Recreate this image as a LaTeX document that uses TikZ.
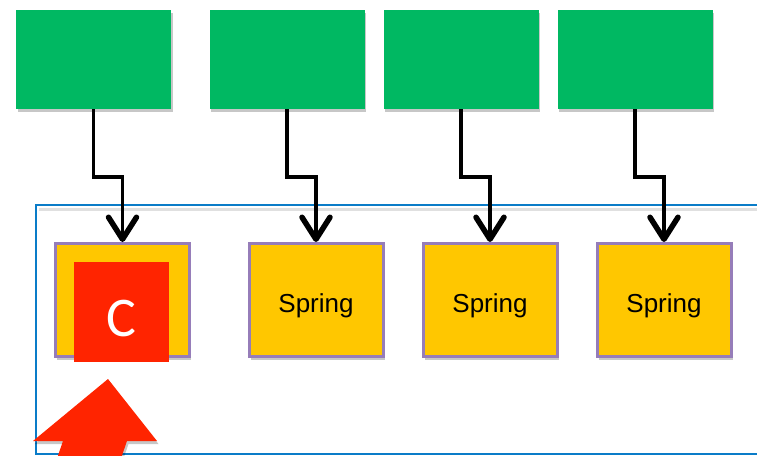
\documentclass[tikz,border=0pt]{standalone}
\usepackage{fontspec}
\setmainfont{Liberation Sans}
\newfontfamily\cfont{Carlito}
\usetikzlibrary{arrows.meta,shadows}
\definecolor{gbox}{RGB}{0,184,98}
\definecolor{ybox}{RGB}{255,199,0}
\definecolor{pborder}{RGB}{150,125,185}
\definecolor{rbox}{RGB}{255,36,0}
\definecolor{bframe}{RGB}{10,124,200}
\tikzset{
  shd/.style={drop shadow={shadow xshift=1.5pt,shadow yshift=-3pt,opacity=.22,fill=black}},
  greenbox/.style={fill=gbox,draw=none,minimum width=155pt,minimum height=99pt,inner sep=0pt,shd},
  springbox/.style={fill=ybox,draw=pborder,line width=3pt,minimum width=134pt,minimum height=113pt,inner sep=0pt,shd,font=\fontsize{26}{28}\selectfont,text height=24pt,text depth=0pt},
  cbox/.style={fill=rbox,draw=none,minimum width=95pt,minimum height=100pt,inner sep=0pt,text=white,font=\cfont\fontsize{56}{58}\selectfont,text height=48pt,text depth=0pt},
  conn/.style={draw=black,line width=3.5pt,line join=miter,-{Straight Barb[length=22pt,width=28pt,line width=5.5pt,round]}},
  frame/.style={draw=bframe,line width=2.5pt}
}
\begin{document}
\begin{tikzpicture}[x=1pt,y=-1pt]
\useasboundingbox (0,0) rectangle (757,455);
\clip (0,0) rectangle (757,455);
% frame
\draw[black!12,line width=3pt] (39,209) -- (820,209);
\draw[frame] (36,205) rectangle (820,454);
% green boxes
\node[greenbox] (g1) at (93.5,59.5) {};
\node[greenbox] (g2) at (287,59.5) {};
\node[greenbox] (g3) at (461,59.5) {};
\node[greenbox] (g4) at (635,59.5) {};
% spring boxes
\node[springbox] (s1) at (122.5,300) {};
\node[springbox] (s2) at (316,300) {Spring};
\node[springbox] (s3) at (490,300) {Spring};
\node[springbox] (s4) at (664,300) {Spring};
\node[cbox] (c) at (121.5,312) {C};
% connectors
\draw[conn] (g1.south) -- ++(0,68) -| (s1.north);
\draw[conn] (g2.south) -- ++(0,68) -| (s2.north);
\draw[conn] (g3.south) -- ++(0,68) -| (s3.north);
\draw[conn] (g4.south) -- ++(0,68) -| (s4.north);
% big red arrow
\fill[rbox,shd] (108,379) -- (157,441) -- (127,441) -- (117,470) -- (53,470) -- (63,441) -- (33,441) -- cycle;
\end{tikzpicture}
\end{document}
